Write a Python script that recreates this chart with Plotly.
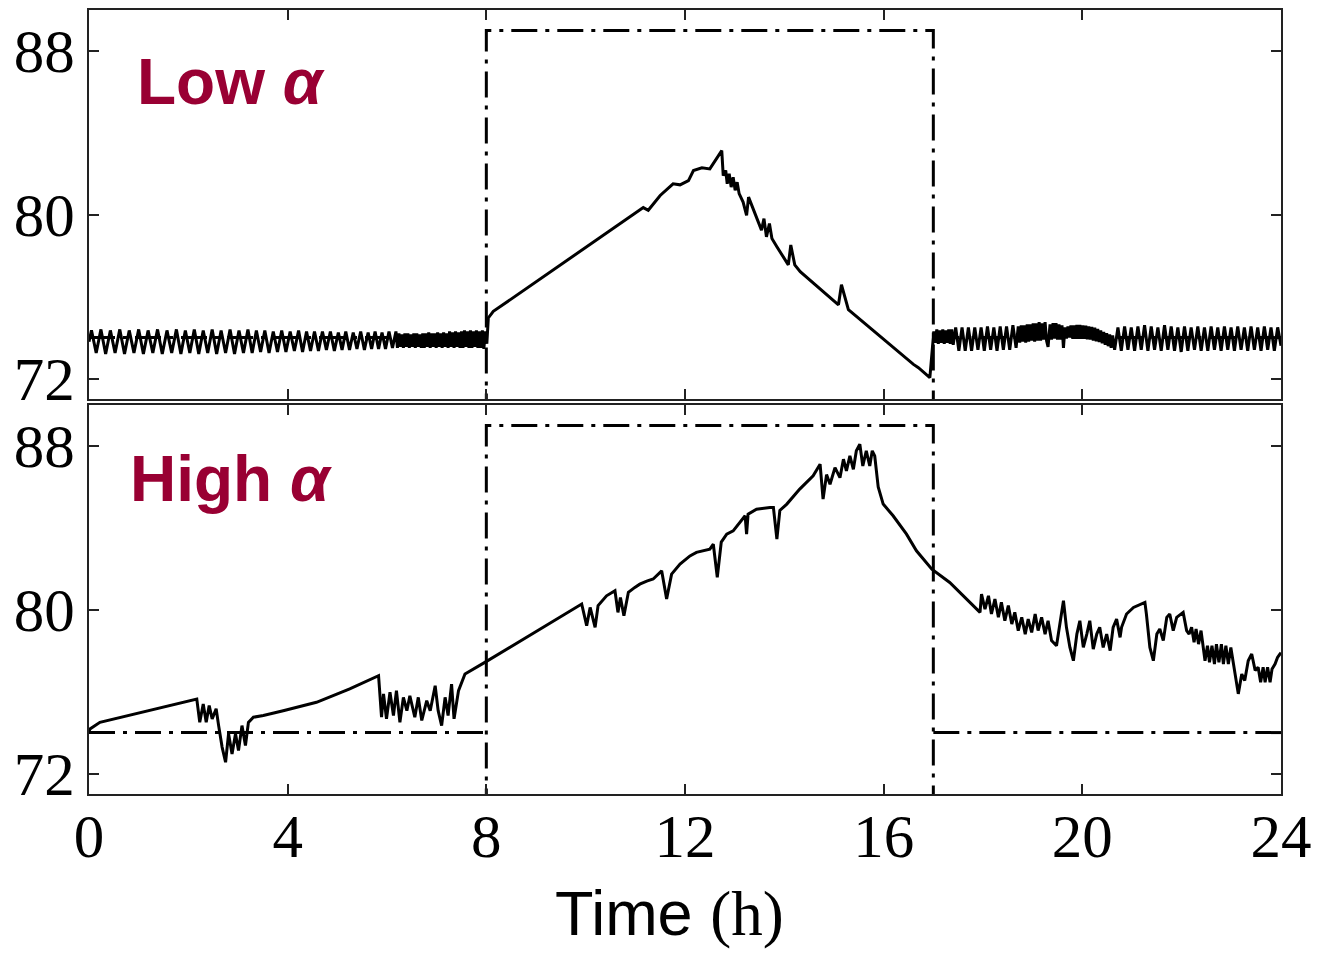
import numpy as np
import plotly.graph_objects as go

# ---------------- data: Low alpha (top panel) ----------------
# slow sawtooth 0-6.2 h
low_a_t = [0.00, 0.05, 0.145, 0.24, 0.335, 0.43, 0.525, 0.62, 0.715, 0.81, 0.905, 1.00, 1.095, 1.19, 1.285,
           1.38, 1.475, 1.57, 1.665, 1.76, 1.85, 1.94, 2.03, 2.12, 2.21, 2.30, 2.39, 2.48, 2.57, 2.66, 2.75,
           2.84, 2.93, 3.02, 3.11, 3.20, 3.285, 3.37, 3.455, 3.54, 3.625, 3.71, 3.795, 3.88, 3.965, 4.05,
           4.135, 4.22, 4.30, 4.38, 4.46, 4.54, 4.62, 4.70, 4.78, 4.86, 4.94, 5.02, 5.095, 5.17, 5.245, 5.32,
           5.395, 5.47, 5.545, 5.62, 5.69, 5.76, 5.83, 5.90, 5.97, 6.04, 6.11, 6.18]
low_a_v = [73.8, 74.35, 73.25, 74.4, 73.2, 74.35, 73.25, 74.4, 73.2, 74.35, 73.25, 74.4, 73.2, 74.35, 73.25,
           74.4, 73.2, 74.35, 73.25, 74.4, 73.2, 74.35, 73.25, 74.4, 73.2, 74.35, 73.25, 74.4, 73.2, 74.35, 73.25,
           74.4, 73.2, 74.35, 73.25, 74.4, 73.25, 74.35, 73.3, 74.35, 73.25, 74.3, 73.3, 74.35, 73.3, 74.3,
           73.35, 74.35, 73.3, 74.3, 73.35, 74.3, 73.35, 74.3, 73.4, 74.3, 73.35, 74.25, 73.4, 74.3, 73.4, 74.25,
           73.45, 74.3, 73.4, 74.25, 73.45, 74.3, 73.45, 74.25, 73.45, 74.3, 73.5, 74.3]

# fast oscillation 6.2-8 h (sampled every 0.03 h)
low_b_start, low_b_step = 6.21, 0.03
low_b_v = [73.5, 74.2, 73.55, 74.15, 73.5, 74.2, 73.55, 74.2, 73.5, 74.15, 73.55, 74.2, 73.5, 74.2, 73.55,
           74.15, 73.5, 74.2, 73.5, 74.2, 73.55, 74.25, 73.5, 74.2, 73.55, 74.2, 73.5, 74.25, 73.55, 74.2,
           73.5, 74.25, 73.55, 74.2, 73.5, 74.3, 73.55, 74.25, 73.5, 74.3, 73.55, 74.25, 73.5, 74.3, 73.5,
           74.35, 73.55, 74.3, 73.5, 74.35, 73.5, 74.3, 73.55, 74.35, 73.5, 74.3, 73.5, 74.35, 73.45, 74.3]

# high-setpoint period 8-17 h
low_c_t = [8.01, 8.04, 8.14, 8.48, 11.16, 11.26, 11.50, 11.76, 11.90, 12.07, 12.17, 12.34, 12.50, 12.74,
           12.77, 12.82, 12.85, 12.89, 12.93, 12.97, 13.01, 13.05, 13.09, 13.17, 13.24, 13.28, 13.38, 13.44,
           13.54, 13.59, 13.64, 13.70, 13.75, 13.85, 14.08, 14.13, 14.21, 14.32, 15.09, 15.15, 15.29, 16.60,
           16.70, 16.93, 16.98]
low_c_v = [73.7, 74.96, 75.28, 75.85, 80.35, 80.22, 80.94, 81.51, 81.46, 81.67, 82.16, 82.29, 82.24, 83.13,
           81.91, 82.16, 81.51, 82.00, 81.35, 81.83, 81.19, 81.59, 81.03, 80.62, 79.97, 80.86, 80.22, 79.81,
           79.25, 79.81, 78.92, 79.57, 78.84, 78.44, 77.55, 78.52, 77.55, 77.22, 75.60, 76.58, 75.36, 72.69,
           72.53, 72.04, 73.66]

# evening oscillations 17-24 h (sampled bands)
low_d_start, low_d_step = 17.01, 0.03
low_d_v = [74.3, 73.75, 74.4, 73.7, 74.35, 73.75, 74.4, 73.7, 74.35, 73.75, 74.4, 73.7, 74.4, 73.65]
low_e_start, low_e_step = 17.45, 0.064
low_e_v = [74.5, 73.35, 74.5, 73.35, 74.5, 73.35, 74.5, 73.4, 74.5, 73.35, 74.55, 73.4, 74.5, 73.35,
           74.55, 73.4, 74.55, 73.4, 74.6, 73.5]
low_f_start, low_f_step = 18.71, 0.03
low_f_v = [74.55, 73.75, 74.6, 73.8, 74.6, 73.75, 74.65, 73.8, 74.65, 73.85, 74.7, 73.8, 74.7, 73.85,
           74.75, 73.85, 74.7, 73.9, 74.75, 73.85]
low_g_t = [19.31, 19.35]
low_g_v = [73.55, 74.65]
low_h_start, low_h_step = 19.38, 0.03
low_h_v = [73.9, 74.7, 73.95, 74.7, 73.9, 74.65, 73.9, 74.6]
low_i_t = [19.62]
low_i_v = [73.5]
low_j_start, low_j_step = 19.65, 0.03
low_j_v = [74.5, 73.95, 74.55, 74.0, 74.6, 73.98, 74.6, 74.0, 74.62, 73.98, 74.62, 73.95, 74.6, 73.95,
           74.58, 73.92, 74.55, 73.9, 74.52, 73.85, 74.48, 73.82, 74.42, 73.78, 74.35, 73.72, 74.28, 73.65,
           74.22, 73.58, 74.15, 73.5, 74.1]
low_k_start, low_k_step = 20.65, 0.067
low_k_v = [73.4, 74.5, 73.35, 74.55, 73.4, 74.5, 73.35, 74.55, 73.4, 74.6, 73.35, 74.55, 73.4, 74.5, 73.35,
           74.6, 73.4, 74.55, 73.35, 74.5, 73.3, 74.55, 73.35, 74.5, 73.4, 74.55, 73.35, 74.5, 73.35, 74.55,
           73.4, 74.5, 73.35, 74.55, 73.4, 74.5, 73.35, 74.55, 73.4, 74.5, 73.35, 74.55, 73.4, 74.5, 73.35,
           74.55, 73.4, 74.5, 73.35, 74.5, 73.6]

# ---------------- data: High alpha (bottom panel) ----------------
high_a_t = [0.00, 0.02, 0.22, 2.17, 2.23, 2.30, 2.36, 2.42, 2.48, 2.56, 2.61, 2.68, 2.75, 2.81, 2.88, 2.95,
            3.01, 3.08, 3.15, 3.21, 3.31, 3.51, 3.91, 4.58, 5.25, 5.83, 5.89, 5.93, 5.99, 6.06, 6.13, 6.19,
            6.26, 6.33, 6.40, 6.46, 6.56, 6.63, 6.70, 6.80, 6.87, 6.97, 7.03, 7.10, 7.17, 7.23, 7.30, 7.35,
            7.44, 7.57, 7.97]
high_a_v = [74.05, 74.18, 74.50, 75.64, 74.50, 75.40, 74.50, 75.32, 74.67, 75.16, 74.34, 73.29, 72.55, 73.94,
            72.96, 73.94, 73.12, 74.34, 73.37, 74.50, 74.75, 74.83, 75.07, 75.48, 76.13, 76.78, 74.75, 75.89,
            74.67, 75.97, 74.83, 76.05, 74.50, 75.72, 75.07, 75.80, 74.75, 75.72, 74.59, 75.56, 75.07, 76.29,
            75.07, 74.34, 75.72, 74.83, 76.37, 74.67, 76.05, 76.86, 77.43]

high_b_t = [9.92, 10.02, 10.09, 10.19, 10.25, 10.42, 10.59, 10.65, 10.70, 10.77, 10.86, 10.99, 11.09, 11.23,
            11.36, 11.53, 11.63, 11.73, 11.90, 12.10, 12.23, 12.50, 12.57, 12.65, 12.73, 12.84, 12.97, 13.21,
            13.24, 13.27, 13.44, 13.71, 13.78, 13.85, 13.91, 14.05, 14.31, 14.58, 14.72, 14.78, 14.85, 14.92,
            15.02, 15.12, 15.19, 15.25, 15.32, 15.39, 15.45, 15.52, 15.58, 15.65, 15.72, 15.77, 15.82, 15.89,
            15.99, 16.19, 16.46, 16.66, 16.97]
high_b_v = [80.28, 79.22, 80.11, 79.14, 80.20, 80.68, 80.93, 79.87, 80.60, 79.71, 80.85, 81.09, 81.25, 81.40,
            81.50, 81.90, 80.52, 81.74, 82.23, 82.63, 82.80, 82.96, 83.20, 81.58, 83.30, 83.69, 83.85, 84.59,
            83.69, 84.67, 84.91, 84.99, 84.99, 83.45, 84.85, 85.16, 85.89, 86.54, 87.11, 85.40, 86.60, 86.13,
            86.94, 86.45, 87.35, 86.78, 87.51, 86.86, 87.76, 88.08, 87.02, 87.76, 87.02, 87.76, 87.51, 86.00,
            85.16, 84.59, 83.69, 82.88, 81.98]

high_c_t = [17.33, 17.94, 17.97, 18.04, 18.11, 18.17, 18.24, 18.31, 18.37, 18.44, 18.51, 18.58, 18.64, 18.71,
            18.78, 18.85, 18.91, 18.98, 19.05, 19.11, 19.18, 19.25, 19.31, 19.38, 19.48, 19.55, 19.62, 19.68,
            19.75, 19.82, 19.89, 19.95, 20.02, 20.09, 20.15, 20.22, 20.29, 20.35, 20.42, 20.49, 20.56, 20.62,
            20.69, 20.76, 20.79, 20.89, 21.03, 21.26, 21.29, 21.36, 21.43, 21.50, 21.56, 21.63, 21.70, 21.76,
            21.83, 21.90, 22.03, 22.10, 22.15, 22.20, 22.25, 22.29, 22.34, 22.39, 22.43, 22.47, 22.52, 22.56,
            22.61, 22.66, 22.70, 22.75, 22.80, 22.84, 22.89, 22.94, 22.99, 23.04, 23.09, 23.14, 23.21, 23.27,
            23.34, 23.41, 23.48, 23.54, 23.59, 23.64, 23.68, 23.73, 23.78, 23.82, 23.88, 23.93, 23.98, 24.00]
high_c_v = [81.33, 79.87, 80.76, 80.03, 80.68, 79.79, 80.52, 79.63, 80.36, 79.46, 80.20, 79.30, 79.87, 78.98,
            79.63, 78.81, 79.54, 78.89, 79.79, 78.98, 79.63, 78.81, 79.46, 78.49, 78.24, 79.46, 80.44, 79.14,
            78.16, 77.51, 78.81, 79.46, 78.16, 78.81, 79.46, 78.08, 78.81, 79.14, 78.16, 78.81, 78.00, 79.14,
            79.54, 78.65, 79.14, 79.79, 80.11, 80.36, 79.79, 78.16, 77.51, 78.81, 79.06, 78.49, 79.63, 79.79,
            78.98, 79.63, 79.87, 78.98, 78.81, 79.14, 78.41, 79.06, 78.32, 78.98, 78.24, 77.51, 78.24, 77.43,
            78.24, 77.35, 78.32, 77.43, 78.32, 77.35, 78.24, 77.35, 78.16, 77.35, 76.70, 75.89, 76.86, 76.54,
            77.51, 77.84, 77.03, 77.19, 76.46, 77.19, 76.46, 77.19, 76.46, 77.11, 77.35, 77.67, 77.84, 77.90]

# setpoint (same schedule in both panels)
setpoint_t = [0, 8, None, 8, 8, 17, 17, None, 17, 24]
setpoint_v = [74, 74, None, 70, 89, 89, 70, None, 74, 74]

x_ticks = [0, 4, 8, 12, 16, 20, 24]
y_ticks = [72, 80, 88]
panel_labels = ["Low <i>α</i>", "High <i>α</i>"]


def band(start, step, vals):
    return list(start + step * np.arange(len(vals)))


low_t = (low_a_t + band(low_b_start, low_b_step, low_b_v) + low_c_t
         + band(low_d_start, low_d_step, low_d_v) + band(low_e_start, low_e_step, low_e_v)
         + band(low_f_start, low_f_step, low_f_v) + low_g_t + band(low_h_start, low_h_step, low_h_v)
         + low_i_t + band(low_j_start, low_j_step, low_j_v) + band(low_k_start, low_k_step, low_k_v))
low_v = (low_a_v + low_b_v + low_c_v + low_d_v + low_e_v + low_f_v + low_g_v + low_h_v + low_i_v
         + low_j_v + low_k_v)

high_t = high_a_t + high_b_t + high_c_t
high_v = high_a_v + high_b_v + high_c_v

SERIF = "Liberation Serif, Times New Roman, serif"
SANS = "Liberation Sans, Arial, sans-serif"
FRAME = "#222222"
DASH = "26px,8px,4px,8px"
LW = 3
TICK_SIZE = 61

fig = go.Figure()
fig.add_trace(go.Scatter(x=setpoint_t, y=setpoint_v, mode="lines", xaxis="x", yaxis="y",
                         line=dict(color="black", width=LW, dash=DASH), hoverinfo="skip"))
fig.add_trace(go.Scatter(x=low_t, y=low_v, mode="lines", xaxis="x", yaxis="y",
                         line=dict(color="black", width=LW)))
fig.add_trace(go.Scatter(x=setpoint_t, y=setpoint_v, mode="lines", xaxis="x2", yaxis="y2",
                         line=dict(color="black", width=LW, dash=DASH), hoverinfo="skip"))
fig.add_trace(go.Scatter(x=high_t, y=high_v, mode="lines", xaxis="x2", yaxis="y2",
                         line=dict(color="black", width=LW)))

common_x = dict(range=[0, 24], tickvals=x_ticks, ticks="inside", ticklen=10, tickwidth=1.5,
                tickcolor=FRAME, showline=True, linecolor=FRAME, linewidth=2, mirror="ticks",
                showgrid=False, zeroline=False, fixedrange=True)
common_y = dict(range=[71, 90], tickvals=y_ticks, ticks="inside", ticklen=10, tickwidth=1.5,
                tickcolor=FRAME, showline=True, linecolor=FRAME, linewidth=2, mirror="ticks",
                showgrid=False, zeroline=False, fixedrange=True,
                tickfont=dict(family=SERIF, size=TICK_SIZE, color="black"))

# page body adds an 8px margin, so the figure is sized to sit inside the 1323x953 window
fig.update_layout(
    width=1315, height=945,
    margin=dict(l=81, r=42, t=0, b=159),
    paper_bgcolor="white", plot_bgcolor="white",
    showlegend=False,
    xaxis=dict(**common_x, domain=[0, 1], anchor="y", showticklabels=False),
    yaxis=dict(**common_y, domain=[0.5038, 1], anchor="x"),
    xaxis2=dict(**common_x, domain=[0, 1], anchor="y2", showticklabels=True, ticklabelstandoff=-12,
                tickfont=dict(family=SERIF, size=TICK_SIZE, color="black")),
    yaxis2=dict(**common_y, domain=[0, 0.4962], anchor="x2"),
    annotations=[
        dict(text=panel_labels[0], xref="paper", yref="paper", x=0.0386, y=0.908,
             xanchor="left", yanchor="middle", showarrow=False,
             font=dict(family=SANS, size=64, color="#990033", weight="bold")),
        dict(text=panel_labels[1], xref="paper", yref="paper", x=0.0327, y=0.402,
             xanchor="left", yanchor="middle", showarrow=False,
             font=dict(family=SANS, size=64, color="#990033", weight="bold")),
        dict(text="Time <span style='font-family:Liberation Serif'>(h)</span>", xref="paper", yref="paper",
             x=0.4874, y=-0.152, xanchor="center", yanchor="middle", showarrow=False,
             font=dict(family=SANS, size=63, color="black")),
    ],
)

fig.write_html("out.html")
